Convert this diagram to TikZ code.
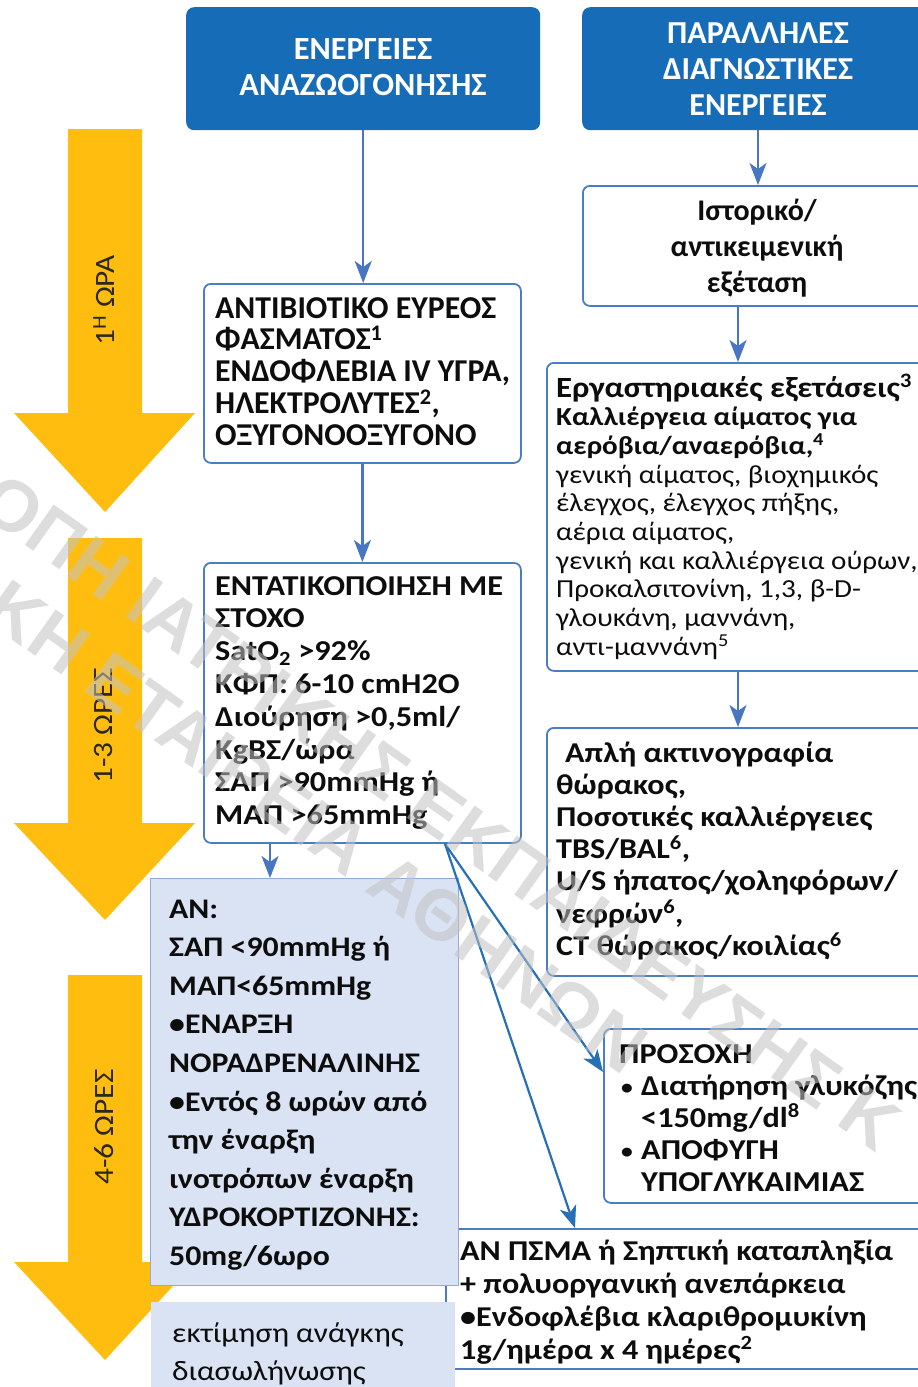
\documentclass[tikz,border=0pt]{standalone}
\usepackage{fontspec}
\setmainfont{Carlito}
\newfontfamily\wf{Carlito}[FakeStretch=1.12]
\newfontfamily\wmfont{Liberation Sans}
\usetikzlibrary{arrows.meta,calc}

\definecolor{hdrblue}{RGB}{22,108,183}
\definecolor{edgeblue}{RGB}{74,126,193}
\definecolor{linkblue}{RGB}{72,118,196}
\definecolor{diagblue}{RGB}{38,112,183}
\definecolor{amber}{RGB}{255,190,15}
\definecolor{paleblue}{RGB}{218,227,243}
\definecolor{paleedge}{RGB}{143,170,220}
\definecolor{ink}{RGB}{13,13,13}
\definecolor{labelink}{RGB}{45,40,30}
\definecolor{wmgray}{gray}{0.76}

% font size with fixed leading
\newcommand{\fsz}[2]{\fontsize{#1}{#2}\selectfont\lineskiplimit=-100pt\relax}
\newcommand{\smallbullet}{{\fontsize{21}{21}\selectfont\raisebox{1pt}{•}}}

\tikzset{
  hdr/.style={fill=hdrblue, rounded corners=8pt, inner sep=0pt, anchor=north west},
  box/.style={draw=edgeblue, line width=1.8pt, rounded corners=7pt, fill=white, inner sep=0pt, anchor=north west},
  palebox/.style={fill=paleblue, draw=paleedge, line width=1.2pt, inner sep=0pt, anchor=north west},
  % text blocks are placed by the baseline of their last line
  txt/.style={inner sep=0pt, align=left, text=ink, anchor=base west},
  ctxt/.style={inner sep=0pt, align=center, anchor=base},
  link/.style={draw=linkblue, line width=2.2pt, -{Stealth[length=22pt,width=17pt,inset=6pt]}},
  diag/.style={draw=diagblue, line width=2.2pt, -{Stealth[length=22pt,width=17pt,inset=6pt]}},
  hourlbl/.style={rotate=90, inner sep=0pt, text=labelink, font=\wf\fsz{28}{30}},
  wm/.style={inner sep=0pt, anchor=west, rotate=-35.5, text=wmgray, text opacity=0.55,
             font=\wmfont\bfseries\fsz{72}{80}}
}

\begin{document}
\begin{tikzpicture}[x=1pt,y=-1pt]
\useasboundingbox (0,0) rectangle (918,1387);
\clip (0,0) rectangle (918,1387);
\fill[white] (0,0) rectangle (918,1387);

% time-line arrows on the left
\fill[amber] (68,129) -- (142,129) -- (142,413) -- (195,413) -- (105,512) -- (14,413) -- (68,413) -- cycle;
\fill[amber] (68,538) -- (142,538) -- (142,823) -- (195,823) -- (105,920) -- (14,823) -- (68,823) -- cycle;
\fill[amber] (68,975) -- (142,975) -- (142,1262) -- (195,1262) -- (105,1360) -- (14,1262) -- (68,1262) -- cycle;
\node[hourlbl] (hour1) at (104,300) {1\textsuperscript{Η} ΩΡΑ};
\node[hourlbl] (hour2) at (104,726) {1-3 ΩΡΕΣ};
\node[hourlbl] (hour3) at (104,1127) {4-6 ΩΡΕΣ};

% column headers
\node[hdr, minimum width=354pt, minimum height=123pt] (resus) at (186,7) {};
\node[hdr, minimum width=360pt, minimum height=123pt] (parallel) at (582,7) {};
\node[ctxt, text=white, font=\bfseries\fsz{32.3}{36}] (resustxt) at (363,95)
  {ΕΝΕΡΓΕΙΕΣ\\ΑΝΑΖΩΟΓΟΝΗΣΗΣ};
\node[ctxt, text=white, font=\bfseries\fsz{32}{36}] (paralleltxt) at (758,115)
  {ΠΑΡΑΛΛΗΛΕΣ\\ΔΙΑΓΝΩΣΤΙΚΕΣ\\ΕΝΕΡΓΕΙΕΣ};

% box running off the bottom edge, partly covered by the pale boxes
\node[box, minimum width=500pt, minimum height=140pt] (sepsis) at (445,1228) {};

% resuscitation column
\node[box, minimum width=317pt, minimum height=179pt] (antib) at (203,283) {};
\node[txt, font=\bfseries\fsz{31.8}{31.8}] (antibtxt) at (215,445.2)
  {ΑΝΤΙΒΙΟΤΙΚΟ ΕΥΡΕΟΣ\\ΦΑΣΜΑΤΟΣ\textsuperscript{1}\\ΕΝΔΟΦΛΕΒΙΑ IV ΥΓΡΑ,\\ΗΛΕΚΤΡΟΛΥΤΕΣ\textsuperscript{2},\\ΟΞΥΓΟΝΟΟΞΥΓΟΝΟ};

\node[box, minimum width=317pt, minimum height=280pt] (goal) at (203,562) {};
\node[txt, font=\wf\bfseries\fsz{28.8}{32.8}] (goaltxt) at (215,824.6)
  {ΕΝΤΑΤΙΚΟΠΟΙΗΣΗ ΜΕ\\ΣΤΟΧΟ\\SatO\textsubscript{2} >92\%\\ΚΦΠ: 6-10 cmH2O\\Διούρηση >0,5ml/\\KgΒΣ/ώρα\\ΣΑΠ >90mmHg ή\\ΜΑΠ >65mmHg};

\node[palebox, minimum width=308pt, minimum height=407pt] (ifbox) at (150,878) {};
\node[txt, font=\wf\bfseries\fsz{28.4}{38.6}] (iftxt) at (169,1265.4)
  {ΑΝ:\\ΣΑΠ <90mmHg ή\\ΜΑΠ<65mmHg\\•ΕΝΑΡΞΗ\\ΝΟΡΑΔΡΕΝΑΛΙΝΗΣ\\•Εντός 8 ωρών από\\την έναρξη\\ινοτρόπων έναρξη\\ΥΔΡΟΚΟΡΤΙΖΟΝΗΣ:\\50mg/6ωρο};

\node[fill=paleblue, inner sep=0pt, anchor=north west, minimum width=304pt, minimum height=100pt] (intub) at (151,1302) {};
\node[txt, font=\wf\fsz{28}{38}] (intubtxt) at (172,1380)
  {εκτίμηση ανάγκης\\διασωλήνωσης};

% diagnostic column
\node[box, minimum width=360pt, minimum height=120pt] (hist) at (582,185) {};
\node[ctxt, text=ink, font=\bfseries\fsz{30}{36}] (histtxt) at (757,292)
  {Ιστορικό/\\αντικειμενική\\εξέταση};

\node[box, minimum width=400pt, minimum height=308pt] (labs) at (546,362) {};
\node[txt, font=\wf\fsz{26}{28.7}] (labstxt) at (556,655.3)
  {{\bfseries\fontsize{29.3}{28.7}\selectfont Εργαστηριακές εξετάσεις\textsuperscript{3}}\\
   \textbf{Καλλιέργεια αίματος για}\\
   \textbf{αερόβια/αναερόβια,\textsuperscript{4}}\\
   γενική αίματος, βιοχημικός\\
   έλεγχος, έλεγχος πήξης,\\
   αέρια αίματος,\\
   γενική και καλλιέργεια ούρων,\\
   Προκαλσιτονίνη, 1,3, β-D-\\
   γλουκάνη, μαννάνη,\\
   αντι-μαννάνη\textsuperscript{5}};

\node[box, minimum width=400pt, minimum height=248pt] (xray) at (546,727) {};
\node[txt, font=\wf\bfseries\fsz{28.7}{32.2}] (xraytxt) at (556,955.2)
  {\hspace*{9pt}Απλή ακτινογραφία\\θώρακος,\\Ποσοτικές καλλιέργειες\\TBS/BAL\textsuperscript{6},\\U/S ήπατος/χοληφόρων/\\νεφρών\textsuperscript{6},\\CT θώρακος/κοιλίας\textsuperscript{6}};

\node[box, minimum width=340pt, minimum height=174pt] (care) at (603,1028) {};
\node[txt, font=\wf\bfseries\fsz{28.8}{32}] (caretxt) at (619,1191)
  {ΠΡΟΣΟΧΗ\\
   \makebox[22pt][l]{\hspace*{2pt}\smallbullet}Διατήρηση γλυκόζης\\
   \hspace*{22pt}<150mg/dl\textsuperscript{8}\\
   \makebox[22pt][l]{\hspace*{2pt}\smallbullet}ΑΠΟΦΥΓΗ\\
   \hspace*{22pt}ΥΠΟΓΛΥΚΑΙΜΙΑΣ};

\node[txt, font=\wf\bfseries\fsz{28.7}{33}] (sepsistxt) at (460,1359)
  {ΑΝ ΠΣΜΑ ή Σηπτική καταπληξία\\+ πολυοργανική ανεπάρκεια\\•Ενδοφλέβια κλαριθρομυκίνη\\1g/ημέρα x 4 ημέρες\textsuperscript{2}};

% connectors
\draw[link] (resus.south) -- (resus.south |- antib.north);
\draw[link] (antib.south) -- (antib.south |- goal.north);
\draw[link] ([xshift=67pt]goal.south west) -- ([xshift=67pt]goal.south west |- ifbox.north);
\draw[link] ([xshift=176pt]parallel.south west) -- ([xshift=176pt]parallel.south west |- hist.north);
\draw[link] ([xshift=156pt]hist.south west) -- ([xshift=156pt]hist.south west |- labs.north);
\draw[link] ([xshift=192pt]labs.south west) -- ([xshift=192pt]labs.south west |- xray.north);
\coordinate (split) at ([xshift=242pt]goal.south west);
\draw[diag] (split) -- ([yshift=-44pt]care.north west);
\draw[diag] (split) -- ([xshift=130pt]sepsis.north west);

% watermark
\node[wm] (wmA) at (-10,490) {ΟΠΗ ΙΑΤΡΙΚΗΣ ΕΚΠΑΙΔΕΥΣΗΣ Κ};
\node[wm] (wmB) at (-5,597) {ΚΗ ΕΤΑΙΡΕΙΑ ΑΘΗΝΩΝ};
\end{tikzpicture}
\end{document}
